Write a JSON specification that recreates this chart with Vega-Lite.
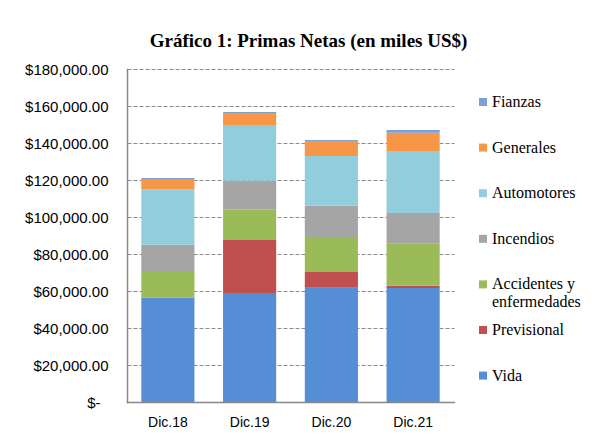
{
  "$schema": "https://vega.github.io/schema/vega-lite/v6.json",
  "autosize": "none",
  "width": 327,
  "height": 333,
  "padding": {"left": 127, "top": 69, "right": 141, "bottom": 34},
  "background": "white",
  "title": {
    "text": "Gráfico 1: Primas Netas (en miles US$)",
    "font": "Liberation Serif",
    "fontSize": 19,
    "fontWeight": "bold",
    "color": "#000000",
    "anchor": "middle",
    "dx": 18,
    "dy": 22,
    "baseline": "bottom",
    "offset": 14
  },
  "data": {
    "values": [
      {"periodo": "Dic.18", "ramo": "Vida", "orden": 1, "valor": 56400},
      {"periodo": "Dic.18", "ramo": "Previsional", "orden": 2, "valor": 0},
      {"periodo": "Dic.18", "ramo": "Accidentes y enfermedades", "orden": 3, "valor": 13900},
      {"periodo": "Dic.18", "ramo": "Incendios", "orden": 4, "valor": 14700},
      {"periodo": "Dic.18", "ramo": "Automotores", "orden": 5, "valor": 29800},
      {"periodo": "Dic.18", "ramo": "Generales", "orden": 6, "valor": 5700},
      {"periodo": "Dic.18", "ramo": "Fianzas", "orden": 7, "valor": 600},
      {"periodo": "Dic.19", "ramo": "Vida", "orden": 1, "valor": 58900},
      {"periodo": "Dic.19", "ramo": "Previsional", "orden": 2, "valor": 28700},
      {"periodo": "Dic.19", "ramo": "Accidentes y enfermedades", "orden": 3, "valor": 16600},
      {"periodo": "Dic.19", "ramo": "Incendios", "orden": 4, "valor": 15400},
      {"periodo": "Dic.19", "ramo": "Automotores", "orden": 5, "valor": 30100},
      {"periodo": "Dic.19", "ramo": "Generales", "orden": 6, "valor": 6500},
      {"periodo": "Dic.19", "ramo": "Fianzas", "orden": 7, "valor": 600},
      {"periodo": "Dic.20", "ramo": "Vida", "orden": 1, "valor": 61800},
      {"periodo": "Dic.20", "ramo": "Previsional", "orden": 2, "valor": 8500},
      {"periodo": "Dic.20", "ramo": "Accidentes y enfermedades", "orden": 3, "valor": 18900},
      {"periodo": "Dic.20", "ramo": "Incendios", "orden": 4, "valor": 16900},
      {"periodo": "Dic.20", "ramo": "Automotores", "orden": 5, "valor": 26900},
      {"periodo": "Dic.20", "ramo": "Generales", "orden": 6, "valor": 7700},
      {"periodo": "Dic.20", "ramo": "Fianzas", "orden": 7, "valor": 900},
      {"periodo": "Dic.21", "ramo": "Vida", "orden": 1, "valor": 61600},
      {"periodo": "Dic.21", "ramo": "Previsional", "orden": 2, "valor": 1300},
      {"periodo": "Dic.21", "ramo": "Accidentes y enfermedades", "orden": 3, "valor": 22700},
      {"periodo": "Dic.21", "ramo": "Incendios", "orden": 4, "valor": 16600},
      {"periodo": "Dic.21", "ramo": "Automotores", "orden": 5, "valor": 33500},
      {"periodo": "Dic.21", "ramo": "Generales", "orden": 6, "valor": 9900},
      {"periodo": "Dic.21", "ramo": "Fianzas", "orden": 7, "valor": 1400}
    ]
  },
  "mark": {"type": "bar"},
  "encoding": {
    "x": {
      "field": "periodo",
      "type": "nominal",
      "sort": ["Dic.18", "Dic.19", "Dic.20", "Dic.21"],
      "scale": {"paddingInner": 0.35, "paddingOuter": 0.175},
      "axis": {
        "title": null,
        "labelAngle": 0,
        "labelFont": "Liberation Sans",
        "labelFontSize": 14,
        "labelColor": "#000000",
        "labelPadding": 13,
        "ticks": false,
        "domainColor": "#888888",
        "domainWidth": 1.5,
        "grid": false
      }
    },
    "y": {
      "field": "valor",
      "type": "quantitative",
      "stack": "zero",
      "scale": {"domain": [0, 180000], "nice": false},
      "axis": {
        "title": null,
        "values": [0, 20000, 40000, 60000, 80000, 100000, 120000, 140000, 160000, 180000],
        "labelExpr": "datum.value == 0 ? '$-' : format(datum.value, '$,.2f')",
        "labelFont": "Liberation Sans",
        "labelFontSize": 15,
        "labelColor": "#000000",
        "labelPadding": {"condition": {"test": "datum.value == 0", "value": 27}, "value": 19},
        "ticks": false,
        "domainColor": "#888888",
        "domainWidth": 1.5,
        "grid": true,
        "gridColor": "#8c8c8c",
        "gridDash": [4, 2],
        "gridWidth": 1
      }
    },
    "color": {
      "field": "ramo",
      "type": "nominal",
      "scale": {
        "domain": ["Fianzas", "Generales", "Automotores", "Incendios", "Accidentes y enfermedades", "Previsional", "Vida"],
        "range": ["#7F9FD3", "#F79646", "#92CDDC", "#A5A5A5", "#9BBB59", "#C0504D", "#558ED5"]
      },
      "legend": {
        "title": null,
        "orient": "none",
        "legendX": 348,
        "legendY": 25,
        "symbolType": "square",
        "symbolSize": 64,
        "symbolStrokeWidth": 0,
        "labelFont": "Liberation Serif",
        "labelFontSize": 16,
        "labelColor": "#000000",
        "labelOffset": 1,
        "labelLimit": 200,
        "gridAlign": "all",
        "rowPadding": 11.6,
        "labelExpr": "datum.label == 'Accidentes y enfermedades' ? ['Accidentes y', 'enfermedades'] : datum.label"
      }
    },
    "order": {"field": "orden", "type": "quantitative", "sort": "ascending"}
  },
  "config": {
    "view": {"stroke": null},
    "legend": {"labelFont": "Liberation Serif"},
    "axis": {"domainCap": "square"}
  }
}
